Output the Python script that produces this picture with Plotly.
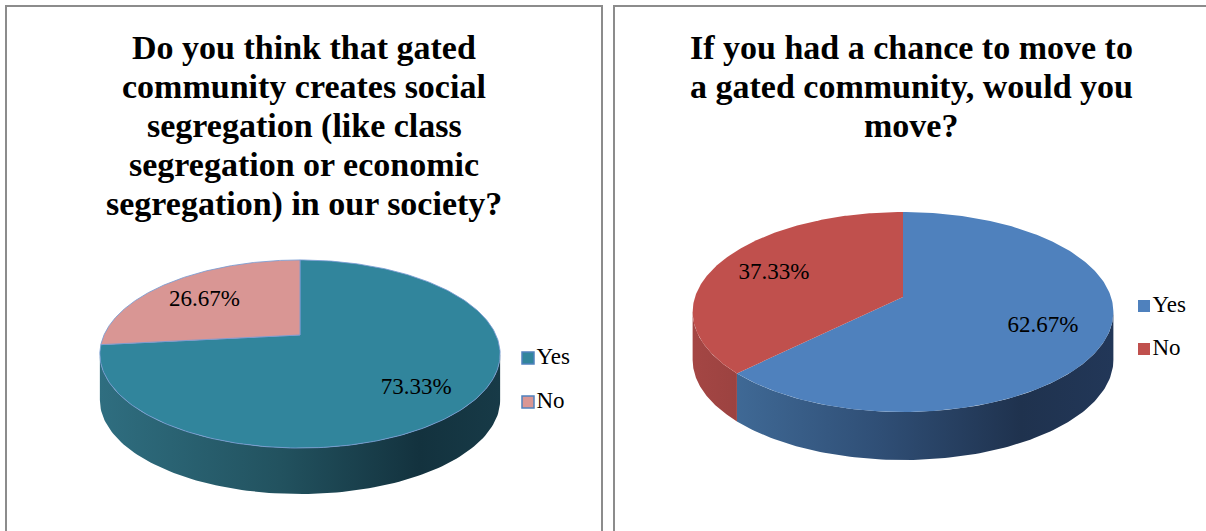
import numpy as np
import plotly.graph_objects as go

W, H = 1206, 531

# ---- data -------------------------------------------------------------
categories = ["Yes", "No"]
segregation_share = [73.33, 26.67]
relocation_share = [62.67, 37.33]

segregation_title = ["Do you think that gated", "community creates social",
                     "segregation (like class", "segregation or economic",
                     "segregation) in our society?"]
relocation_title = ["If you had a chance to move to", "a gated community, would you",
                    "move?"]

SERIF = "Liberation Serif"
TITLE_SIZE = 34
TITLE_LINE_GAP = 39      # distance between title baselines, px
TITLE_TOP = 27           # top of the first title line, px

# ---- per-panel styling / geometry of the tilted (perspective) pie -------
panels = [
    dict(values=segregation_share, title=segregation_title, title_x=304,
         cx=300, cy=335, R=196, S=90.2, k=0.202, depth=46,
         label_r=0.72, label_dy=5,
         top_colors=["#31859c", "#d99694"],
         side_scales=[
             [[0, "#2f6e80"], [0.45, "#22525f"], [0.8, "#13323e"], [1, "#173a47"]],
             [[0, "#b07472"], [1, "#7a4a49"]],
         ],
         edge="rgba(120,155,210,0.85)",
         legend_x=528, legend_y=[358, 402], legend_edge="#4f81bd"),
    dict(values=relocation_share, title=relocation_title, title_x=911,
         cx=903, cy=297, R=208, S=97.75, k=0.15, depth=48,
         label_r=0.70, label_dy=2,
         top_colors=["#4f81bd", "#c0504d"],
         side_scales=[
             [[0, "#44719f"], [0.45, "#2f4e75"], [0.78, "#1f324e"], [1, "#223758"]],
             [[0, "#a44644"], [0.5, "#7d3533"], [1, "#552322"]],
         ],
         edge="rgba(255,255,255,0.0)",
         legend_x=1144, legend_y=[306, 349], legend_edge=None),
]


def project(p, theta_deg, r=1.0):
    """Map a point of the disk (clockwise angle from 12 o'clock, radius r)
    to pixel coordinates with a simple perspective foreshortening."""
    t = np.radians(theta_deg)
    X = r * np.sin(t)
    Y = r * np.cos(t)          # +1 = far edge (top of the picture)
    w = 1.0 + p["k"] * Y
    return p["cx"] + p["R"] * X / w, p["cy"] - p["S"] * Y / w


fig = go.Figure()
side_traces, top_traces, text_traces = [], [], []

for p in panels:
    total = sum(p["values"])
    start = 0.0
    # visible front band of the rim lies between the two silhouette points
    t_front0 = np.degrees(np.arccos(-p["k"]))
    t_front1 = 360.0 - t_front0
    x_lo = p["cx"] - p["R"] / np.sqrt(1 - p["k"] ** 2)
    x_hi = p["cx"] + p["R"] / np.sqrt(1 - p["k"] ** 2)
    mids = []
    for i, v in enumerate(p["values"]):
        span = 360.0 * v / total
        a, b = start, start + span
        mids.append((a + b) / 2)

        # rim (side wall)
        lo, hi = max(a, t_front0), min(b, t_front1)
        if lo < hi:
            th = np.linspace(lo, hi, 120)
            sx, sy = project(p, th)
            px = np.concatenate([sx, sx[::-1], sx[:1]])
            py = np.concatenate([sy, sy[::-1] + p["depth"], sy[:1]])
            side_traces.append(go.Scatter(
                x=px, y=py, mode="lines", fill="toself",
                line=dict(width=0), hoverinfo="skip", showlegend=False,
                fillgradient=dict(type="horizontal", colorscale=p["side_scales"][i],
                                  start=x_lo, stop=x_hi)))

        # top face
        th = np.linspace(a, b, 240)
        sx, sy = project(p, th)
        cx0, cy0 = project(p, 0.0, 0.0)
        top_traces.append(go.Scatter(
            x=np.concatenate([[cx0], sx, [cx0]]),
            y=np.concatenate([[cy0], sy, [cy0]]),
            mode="lines", fill="toself", fillcolor=p["top_colors"][i],
            line=dict(color=p["edge"], width=1),
            name=categories[i], hoverinfo="name", showlegend=False))
        start = b

    # percentage labels
    lx, ly = project(p, np.array(mids), p["label_r"])
    text_traces.append(go.Scatter(
        x=lx, y=ly + p["label_dy"], mode="text",
        text=[f"{v:.2f}%" for v in p["values"]],
        textfont=dict(family=SERIF, size=23, color="#000000"),
        hoverinfo="skip", showlegend=False))

    # legend (square swatch + category name)
    text_traces.append(go.Scatter(
        x=[p["legend_x"]] * len(categories), y=p["legend_y"],
        mode="markers+text", text=categories, textposition="middle right",
        textfont=dict(family=SERIF, size=23, color="#000000"),
        marker=dict(symbol="square", size=12, color=p["top_colors"],
                    line=dict(color=p["legend_edge"] or "rgba(0,0,0,0)",
                              width=1.5 if p["legend_edge"] else 0)),
        hoverinfo="skip", showlegend=False))

for tr in side_traces + top_traces + text_traces:
    fig.add_trace(tr)

# titles: one annotation per line so the line spacing can be set exactly
annotations = []
for p in panels:
    for j, line in enumerate(p["title"]):
        annotations.append(dict(
            x=p["title_x"], y=TITLE_TOP + j * TITLE_LINE_GAP, xref="x", yref="y",
            text=line, showarrow=False, xanchor="center", yanchor="top",
            font=dict(family=SERIF, size=TITLE_SIZE, color="#000000", weight="bold")))

shapes = [
    dict(type="rect", xref="x", yref="y", x0=6, y0=6, x1=602, y1=560,
         line=dict(color="#8c8c8c", width=2)),
    dict(type="rect", xref="x", yref="y", x0=614, y0=6, x1=1230, y1=560,
         line=dict(color="#8c8c8c", width=2)),
]

fig.update_layout(
    width=W, height=H, margin=dict(l=0, r=0, t=0, b=0),
    paper_bgcolor="#ffffff", plot_bgcolor="#ffffff",
    xaxis=dict(range=[0, W], visible=False, fixedrange=True),
    yaxis=dict(range=[H, 0], visible=False, fixedrange=True),
    annotations=annotations, shapes=shapes, showlegend=False,
)

fig.write_html("out.html")
